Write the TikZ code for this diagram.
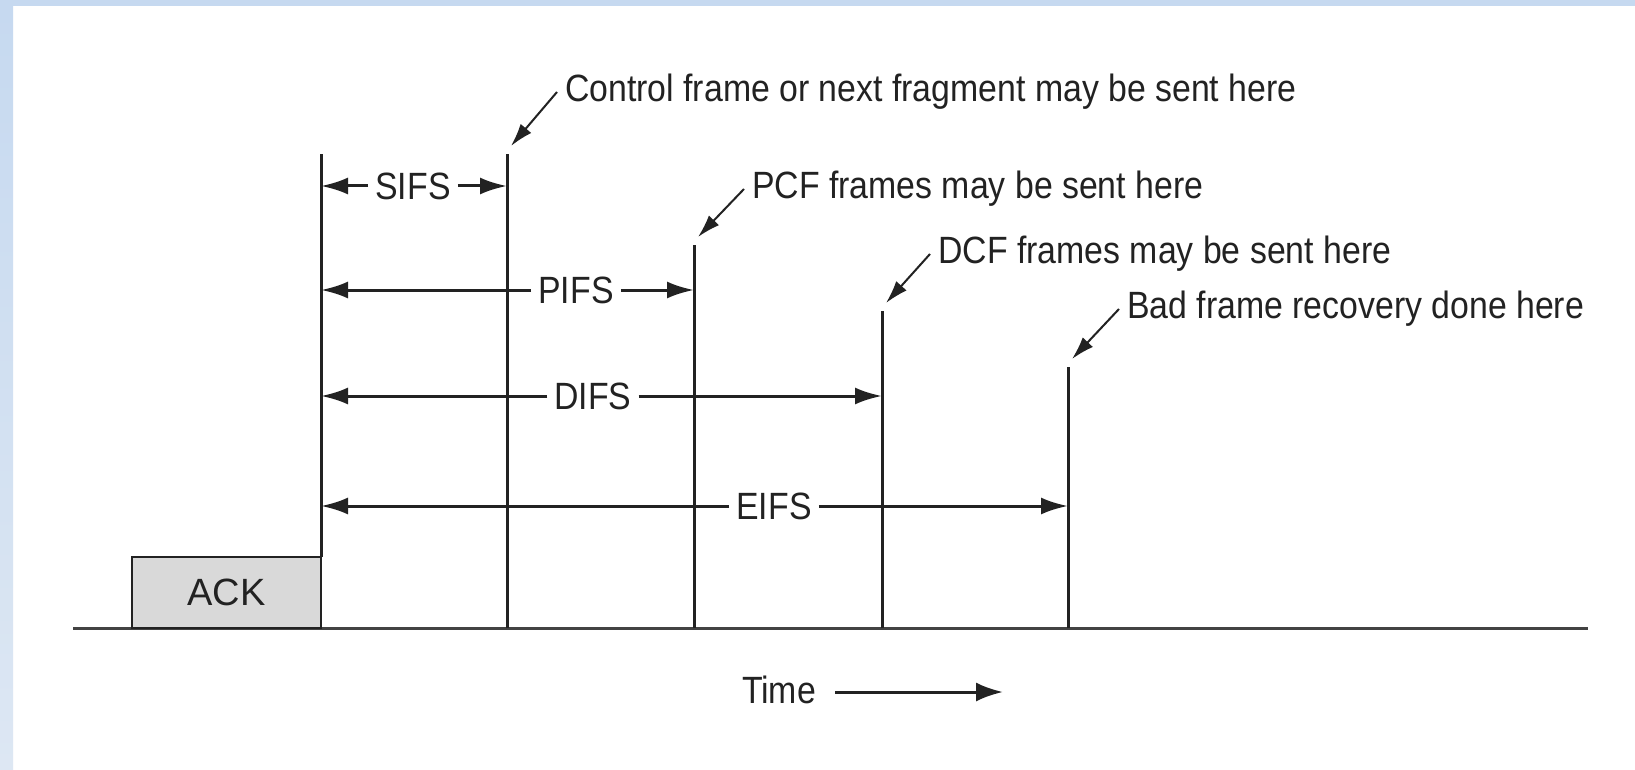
\documentclass[tikz,border=0pt]{standalone}
\usepackage{fontspec}
\setsansfont{Liberation Sans}[FakeStretch=0.89]
\newfontfamily\ackfont{Liberation Sans}
\usetikzlibrary{arrows.meta, positioning}
\definecolor{framebar}{HTML}{C6D9F0}
\definecolor{framebarlow}{HTML}{DDE7F3}
\definecolor{ink}{HTML}{222222}
\definecolor{ackgray}{HTML}{D9D9D9}

\begin{document}
\begin{tikzpicture}[
  x=1pt, y=1pt,
  font=\sffamily\fontsize{38}{42}\selectfont,
  tick/.style={draw=ink, line width=3pt},
  dimarrow/.style={-{Latex[length=27pt,width=17pt]}, draw=ink, line width=3pt},
  lead/.style={-{Latex[length=23pt,width=14pt]}, draw=ink, line width=2pt},
  dimlabel/.style={inner xsep=7pt, inner ysep=0pt, text=ink},
  note/.style={anchor=west, inner sep=0pt, text=ink}
]
  \useasboundingbox (0,0) rectangle (1635,-770);
  \fill[white] (0,0) rectangle (1635,-770);
  % blue frame at the top and left
  \fill[framebar] (0,0) rectangle (1635,-6);
  \shade[top color=framebar, bottom color=framebarlow] (0,-6) rectangle (13,-770);

  % time axis
  \coordinate (axisL) at (73,-628);
  \coordinate (axisR) at (1588,-628);
  \draw[draw=ink!85, line width=3pt] (axisL) -- (axisR);

  \node[draw=ink, line width=2.5pt, fill=ackgray, outer sep=0pt, inner sep=0pt,
        minimum width=189pt, minimum height=71pt, anchor=south west,
        font=\ackfont\fontsize{38}{42}\selectfont, text=ink] (ack) at (132,-628) {ACK};

  % interval boundaries
  \coordinate (t0) at (321,-154);
  \coordinate (t1) at (507,-154);
  \coordinate (t2) at (694,-245);
  \coordinate (t3) at (882,-311);
  \coordinate (t4) at (1068,-367);
  \draw[tick] (ack.north east) -- (t0);
  \draw[tick] (t1 |- axisL) -- (t1);
  \draw[tick] (t2 |- axisL) -- (t2);
  \draw[tick] (t3 |- axisL) -- (t3);
  \draw[tick] (t4 |- axisL) -- (t4);

  % interframe spaces
  \node[dimlabel] (sifs) at (413,-186) {SIFS};
  \node[dimlabel] (pifs) at (576,-290) {PIFS};
  \node[dimlabel] (difs) at (593,-396) {DIFS};
  \node[dimlabel] (eifs) at (774,-506) {EIFS};
  \draw[dimarrow] (sifs.west) -- (t0 |- sifs);
  \draw[dimarrow] (sifs.east) -- (t1 |- sifs);
  \draw[dimarrow] (pifs.west) -- (t0 |- pifs);
  \draw[dimarrow] (pifs.east) -- (t2 |- pifs);
  \draw[dimarrow] (difs.west) -- (t0 |- difs);
  \draw[dimarrow] (difs.east) -- (t3 |- difs);
  \draw[dimarrow] (eifs.west) -- (t0 |- eifs);
  \draw[dimarrow] (eifs.east) -- (t4 |- eifs);

  % notes
  \node[note] (ctrl) at (565,-92) {Control frame or next fragment may be sent here};
  \node[note] (pcf) at (752,-189) {PCF frames may be sent here};
  \node[note] (dcf) at (938,-254) {DCF frames may be sent here};
  \node[note] (bad) at (1127,-309) {Bad frame recovery done here};
  \draw[lead] ([xshift=-8pt]ctrl.west) -- ([xshift=4pt,yshift=8pt]t1);
  \draw[lead] ([xshift=-8pt]pcf.west) -- ([xshift=4pt,yshift=8pt]t2);
  \draw[lead] ([xshift=-8pt]dcf.west) -- ([xshift=4pt,yshift=8pt]t3);
  \draw[lead] ([xshift=-8pt]bad.west) -- ([xshift=4pt,yshift=8pt]t4);

  % time direction
  \node[inner sep=0pt, text=ink] (time) at (779,-690) {Time};
  \coordinate (timeend) at (1003,-692);
  \draw[-{Latex[length=27pt,width=19pt]}, draw=ink, line width=3pt]
    ([xshift=19pt]time.east |- timeend) -- (timeend);
\end{tikzpicture}
\end{document}
